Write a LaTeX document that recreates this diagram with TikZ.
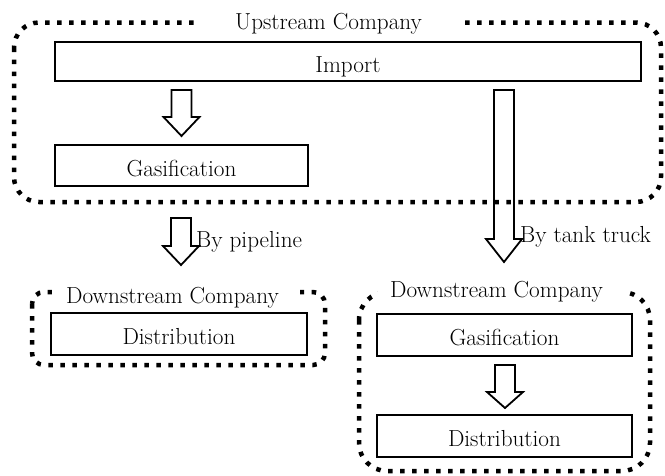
\documentclass[tikz,border=0pt]{standalone}
\usepackage{fontspec}
\usetikzlibrary{calc}
\begin{document}
\begin{tikzpicture}[x=1pt,y=-1pt,
  every node/.style={font=\fontsize{23.2}{27}\selectfont},
  procbox/.style={draw=black, line width=1.8pt, inner sep=0pt, text height=21pt, text depth=0pt},
  dotline/.style={line width=4.5pt, dash pattern=on 4.5pt off 7.5pt},
  lbl/.style={anchor=base west, inner sep=0pt},
  gapfill/.style={fill=white},
  headlen/.store in=\arrowhl, headlen=20pt,
  blockarrow/.style={line width=1.8pt, line join=miter,
    to path={let \p1=(\tikztostart), \p2=(\tikztotarget) in
      (\x1-10pt,\y1) -- (\x1+10pt,\y1) -- (\x1+10pt,\y2+\arrowhl) -- (\x1+18pt,\y2+\arrowhl)
      -- (\x2,\y2) -- (\x1-18pt,\y2+\arrowhl) -- (\x1-10pt,\y2+\arrowhl) -- cycle}}
]
\useasboundingbox (0,0) rectangle (665,475);

% container outlines
\draw[dotline, rounded corners=25pt] (14,22.5) rectangle (661,202);
\fill[gapfill] (200,13) rectangle (458,32);
\draw[dotline, rounded corners=12pt] (32,292) rectangle (325,365);
\fill[gapfill] (52,284) rectangle (300,300);
\draw[dotline, rounded corners=28pt] (359,292) rectangle (650,471);
\fill[gapfill] (378,284) rectangle (627,300);

% container titles
\node[lbl] (up) at (235,29) {Upstream Company};
\node[lbl] (dl) at (66,303) {Downstream Company};
\node[lbl] (dr) at (390,297) {Downstream Company};

% process boxes
\node[procbox, minimum width=586pt, minimum height=39pt] (imp) at (348,61.5) {Import};
\node[procbox, minimum width=253pt, minimum height=41pt] (gas1) at (181.5,165.5) {Gasification};
\node[procbox, minimum width=256pt, minimum height=42pt] (dist1) at (179,334) {Distribution};
\node[procbox, minimum width=255pt, minimum height=42pt] (gas2) at (504.5,335) {Gasification};
\node[procbox, minimum width=255pt, minimum height=42pt] (dist2) at (504.5,436) {Distribution};

% arrow end points
\coordinate (a1s) at (181.5,90);  \coordinate (a1e) at (181.5,136);
\coordinate (a2s) at (181,218);   \coordinate (a2e) at (181,265);
\coordinate (a3s) at (504,90);    \coordinate (a3e) at (504,262);
\coordinate (a4s) at (505,365);   \coordinate (a4e) at (505,408);

\draw[blockarrow, headlen=19pt] (a1s) to (a1e);
\draw[blockarrow, headlen=19pt] (a2s) to (a2e);
\draw[blockarrow, headlen=23pt] (a3s) to (a3e);
\draw[blockarrow, headlen=16pt] (a4s) to (a4e);

% arrow labels
\node[lbl] (pipe) at (196,247) {By pipeline};
\node[lbl] (tank) at (520,242) {By tank truck};
\end{tikzpicture}
\end{document}
